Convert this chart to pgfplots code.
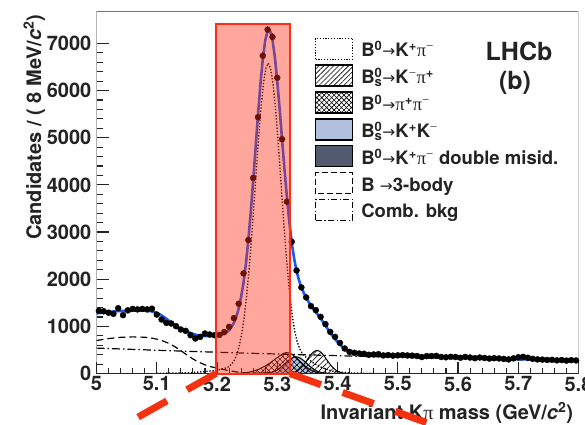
\documentclass[border=0pt]{standalone}
\usepackage{fontspec}
\setmainfont{TeX Gyre Heros}
\newfontfamily\symf{Liberation Serif}
\newfontfamily\arf{DejaVu Sans}
\usepackage{pgfplots}
\usepackage{pgfplotstable}
\pgfplotsset{compat=1.18}
\usetikzlibrary{patterns.meta}

\definecolor{fitblue}{RGB}{25,90,240}
\definecolor{lhred}{RGB}{255,45,20}
\definecolor{dashred}{RGB}{245,50,15}
\definecolor{kkblue}{RGB}{176,192,222}
\definecolor{misid}{RGB}{80,90,108}
\definecolor{txt}{RGB}{35,35,35}

\newcommand{\tf}{\fontsize{20bp}{24bp}\selectfont\bfseries}
\newcommand{\lf}{\fontsize{18.5bp}{22bp}\selectfont\bfseries}
\newcommand{\ar}{{\arf\mdseries\fontsize{15.5bp}{16bp}\selectfont→}}
\newcommand{\pis}{{\symf\mdseries π}}
\newcommand{\mi}{{\symf\mdseries −}}
\newcommand{\bz}{B\textsuperscript{0}}
\newcommand{\bs}{B\rlap{\textsuperscript{0}}\textsubscript{s}}

% data points, 8 MeV bins
\pgfplotstableread{
x n
5.004 1330
5.012 1320
5.020 1290
5.028 1265
5.036 1385
5.044 1238
5.052 1340
5.060 1370
5.068 1360
5.076 1370
5.084 1360
5.092 1375
5.100 1250
5.108 1146
5.116 1075
5.124 1061
5.132 1004
5.140 934
5.148 905
5.156 813
5.164 743
5.172 777
5.180 849
5.188 828
5.196 813
5.204 820
5.212 880
5.220 990
5.228 1175
5.236 1480
5.244 2123
5.252 2830
5.260 4146
5.268 5435
5.276 6737
5.284 7290
5.292 7134
5.300 6270
5.308 4968
5.316 3643
5.324 2794
5.332 2185
5.340 1826
5.348 1614
5.356 1429
5.364 1344
5.372 1202
5.380 1047
5.388 883
5.396 777
5.404 650
5.412 531
5.420 459
5.428 440
5.436 425
5.444 420
5.452 398
5.460 405
5.468 410
5.476 384
5.484 392
5.492 380
5.500 386
5.508 390
5.516 384
5.524 380
5.532 372
5.540 350
5.548 370
5.556 372
5.564 375
5.572 352
5.580 345
5.588 355
5.596 350
5.604 335
5.612 352
5.620 340
5.628 326
5.636 340
5.644 330
5.652 318
5.660 325
5.668 320
5.676 310
5.684 300
5.692 322
5.700 345
5.708 355
5.716 335
5.724 312
5.732 300
5.740 296
5.748 288
5.756 292
5.764 280
5.772 286
5.780 275
5.788 284
5.796 278
}\kpidata

\begin{document}
\begin{tikzpicture}
\begin{axis}[
    scale only axis,
    width=482bp, height=362.3bp,
    xmin=5, xmax=5.8, ymin=0, ymax=7680,
    axis line style={draw=none},
    tick pos=left,
    xtick={5,5.1,5.2,5.3,5.4,5.5,5.6,5.7,5.8},
    xticklabels={5,5.1,5.2,5.3,5.4,5.5,5.6,5.7,5.8},
    ytick={0,1000,2000,3000,4000,5000,6000,7000},
    yticklabels={0,1000,2000,3000,4000,5000,6000,7000},
    minor x tick num=4, minor y tick num=4,
    major tick length=12bp, minor tick length=6bp,
    tick style={black!85, line width=1.1bp},
    tick label style={font=\tf, text=txt},
    xticklabel style={inner sep=3bp},
    yticklabel style={inner sep=5bp},
    ylabel={Candidates / ( 8 MeV/{\itshape c}\textsuperscript{2})},
    ylabel style={font=\tf, text=txt, at={(axis description cs:-0.115,1)}, anchor=base east},
    xlabel={Invariant K\pis{} mass (GeV/{\itshape c}\textsuperscript{2})},
    xlabel style={font=\tf, text=txt, at={(axis description cs:0.996,-0.128)}, anchor=base east},
    legend style={at={(axis description cs:0.4533,0.9274)}, anchor=north west,
        draw=none, fill=none, inner sep=0pt, outer sep=0pt,
        font=\lf, text=txt, row sep=4.5bp, column sep=8bp,
        cells={anchor=base west},
        nodes={inner sep=0pt, text height=15bp, text depth=2bp}},
]
% legend entries
\addlegendimage{legend image code/.code={\draw[line width=1.3bp, dash pattern=on 1.2bp off 1.6bp] (0bp,-2.3bp) rectangle (37bp,18.7bp);}}
\addlegendentry{\bz\ar K\textsuperscript{+}\pis\textsuperscript{\mi}}
\addlegendimage{legend image code/.code={\fill[pattern={Lines[angle=45,distance=3.5bp,line width=0.6bp]}] (0bp,-2.3bp) rectangle (37bp,18.7bp); \draw[line width=1.4bp] (0bp,-2.3bp) rectangle (37bp,18.7bp);}}
\addlegendentry{\bs\ar K\textsuperscript{\mi}\pis\textsuperscript{+}}
\addlegendimage{legend image code/.code={\fill[pattern={Hatch[angle=45,distance=3.5bp,line width=0.6bp]}] (0bp,-2.3bp) rectangle (37bp,18.7bp); \draw[line width=1.4bp] (0bp,-2.3bp) rectangle (37bp,18.7bp);}}
\addlegendentry{\bz\ar\pis\textsuperscript{+}\pis\textsuperscript{\mi}}
\addlegendimage{legend image code/.code={\draw[line width=1.4bp, fill=kkblue] (0bp,-2.3bp) rectangle (37bp,18.7bp);}}
\addlegendentry{\bs\ar K\textsuperscript{+}K\textsuperscript{\mi}}
\addlegendimage{legend image code/.code={\draw[line width=1.4bp, fill=misid] (0bp,-2.3bp) rectangle (37bp,18.7bp);}}
\addlegendentry{\bz\ar K\textsuperscript{+}\pis\textsuperscript{\mi} double misid.}
\addlegendimage{legend image code/.code={\draw[line width=1.2bp, dash pattern=on 6bp off 3bp] (0bp,-2.3bp) rectangle (37bp,18.7bp);}}
\addlegendentry{B \ar3-body}
\addlegendimage{legend image code/.code={\draw[line width=1.2bp, dash pattern=on 6bp off 2.5bp on 1.2bp off 2.5bp] (0bp,-2.3bp) rectangle (37bp,18.7bp);}}
\addlegendentry{Comb. bkg}

% double misid (dark)
\addplot[forget plot, fill=misid, draw=black, line width=0.6bp] coordinates {
(5.22,0) (5.25,8) (5.28,18) (5.30,22) (5.33,20) (5.36,14) (5.39,7) (5.42,2) (5.45,0)} \closedcycle;
% Bs -> K+K- (light blue)
\addplot[forget plot, fill=kkblue, draw=black, line width=1bp] coordinates {
(5.267,0) (5.275,3) (5.283,10) (5.291,30) (5.295,48) (5.299,73) (5.303,106) (5.307,146) (5.311,192)
(5.315,239) (5.319,284) (5.323,322) (5.327,346) (5.331,355) (5.335,346) (5.339,322) (5.343,284)
(5.347,239) (5.351,192) (5.355,146) (5.359,106) (5.363,73) (5.367,48) (5.371,30) (5.379,10)
(5.387,3) (5.395,0)} \closedcycle;
% B0 -> pi+pi- (crosshatch)
\addplot[forget plot, pattern={Hatch[angle=45,distance=4bp,line width=0.6bp]}, draw=black, line width=1bp] coordinates {
(5.230,0) (5.240,8) (5.250,22) (5.260,50) (5.270,95) (5.280,160) (5.288,225) (5.296,300)
(5.304,375) (5.310,425) (5.315,445) (5.320,435) (5.325,405) (5.330,355) (5.335,295) (5.340,230)
(5.345,170) (5.350,118) (5.355,78) (5.360,48) (5.365,28) (5.370,15) (5.380,4) (5.390,0)} \closedcycle;
% Bs -> K-pi+ (hatched)
\addplot[forget plot, pattern={Lines[angle=45,distance=4bp,line width=0.6bp]}, draw=black, line width=1bp] coordinates {
(5.310,0) (5.314,2) (5.318,5) (5.322,11) (5.326,22) (5.330,39) (5.334,66) (5.338,106) (5.342,159)
(5.346,224) (5.350,297) (5.354,370) (5.358,432) (5.362,475) (5.366,490) (5.370,475) (5.374,432)
(5.378,370) (5.382,297) (5.386,224) (5.390,159) (5.394,106) (5.398,66) (5.402,39) (5.406,22)
(5.410,11) (5.414,5) (5.418,2) (5.424,0)} \closedcycle;
% B -> 3-body (dashed)
\addplot[forget plot, black, line width=1.2bp, dash pattern=on 7bp off 4bp] coordinates {
(5.00,700) (5.02,742) (5.04,768) (5.06,778) (5.08,770) (5.09,755) (5.10,730) (5.11,692) (5.12,640)
(5.13,570) (5.14,485) (5.15,395) (5.16,310) (5.17,240) (5.18,185) (5.19,145) (5.20,115) (5.21,88)
(5.22,62) (5.23,40) (5.24,22) (5.25,10) (5.26,4) (5.27,1) (5.28,0)};
% combinatorial (dash-dot)
\addplot[forget plot, black, line width=1.2bp, dash pattern=on 8bp off 3bp on 1.5bp off 3bp] coordinates {
(5.00,540) (5.05,517) (5.10,494) (5.15,473) (5.20,452) (5.25,433) (5.30,414) (5.35,396) (5.40,379)
(5.45,362) (5.50,347) (5.55,332) (5.60,317) (5.65,304) (5.70,290) (5.75,278) (5.80,266)};
% B0 -> K+pi- signal (dotted)
\addplot[forget plot, black, line width=1.4bp, dash pattern=on 1.3bp off 1.8bp] coordinates {
(5.100,5) (5.150,15) (5.180,40) (5.200,75) (5.210,100) (5.217,125) (5.221,160) (5.225,210)
(5.229,290) (5.233,410) (5.237,590) (5.241,850) (5.245,1180) (5.249,1625) (5.253,2175) (5.257,2818)
(5.261,3529) (5.265,4269) (5.269,4988) (5.273,5631) (5.277,6140) (5.281,6467) (5.285,6580)
(5.289,6467) (5.293,6140) (5.297,5631) (5.301,4988) (5.305,4269) (5.309,3529) (5.313,2818)
(5.317,2180) (5.321,1640) (5.325,1220) (5.329,900) (5.333,680) (5.337,530) (5.341,440) (5.345,380)
(5.350,320) (5.360,225) (5.370,150) (5.380,95) (5.390,58) (5.400,35) (5.420,12) (5.450,3) (5.500,0)};
% data
\addplot[forget plot, only marks, mark=*, mark size=3bp, black,
    error bars/.cd, y dir=both, y explicit, error mark=none,
    error bar style={line width=1bp, black}]
    table[x=x, y=n, y error expr=sqrt(\thisrow{n})] {\kpidata};
% total fit
\addplot[forget plot, fitblue, line width=2.6bp] coordinates {
(5.000,1275) (5.010,1292) (5.020,1306) (5.030,1318) (5.040,1327) (5.050,1333) (5.060,1337)
(5.070,1338) (5.080,1335) (5.090,1322) (5.095,1308) (5.100,1285) (5.105,1255) (5.110,1215)
(5.115,1170) (5.120,1120) (5.125,1070) (5.130,1022) (5.135,980) (5.140,948) (5.145,922)
(5.150,895) (5.155,865) (5.160,840) (5.165,822) (5.170,808) (5.175,800) (5.180,795) (5.185,793)
(5.190,795) (5.195,799) (5.200,805) (5.204,812) (5.208,825) (5.212,845) (5.216,875) (5.220,920)
(5.224,985) (5.228,1075) (5.232,1200) (5.236,1380) (5.240,1620) (5.244,1930) (5.248,2330)
(5.252,2830) (5.256,3420) (5.260,4080) (5.264,4780) (5.268,5480) (5.272,6130) (5.276,6670)
(5.280,7060) (5.284,7270) (5.288,7270) (5.292,7080) (5.296,6710) (5.300,6200) (5.304,5600)
(5.308,4960) (5.312,4330) (5.316,3740) (5.320,3220) (5.324,2780) (5.328,2440) (5.332,2180)
(5.336,1980) (5.340,1830) (5.344,1710) (5.348,1610) (5.352,1520) (5.356,1440) (5.360,1370)
(5.364,1300) (5.368,1240) (5.372,1170) (5.376,1095) (5.380,1020) (5.384,940) (5.388,865)
(5.392,795) (5.396,730) (5.400,670) (5.404,615) (5.408,565) (5.412,525) (5.416,490) (5.420,465)
(5.424,447) (5.428,435) (5.432,426) (5.436,420) (5.440,415) (5.450,407) (5.460,400) (5.480,388)
(5.500,376) (5.550,358) (5.600,341) (5.650,323) (5.700,305) (5.750,287) (5.800,270)};

% frame: dark left/bottom, grey top/right
\draw[black!85, line width=1.4bp] (rel axis cs:0,1) -- (rel axis cs:0,0) -- (rel axis cs:1,0);
\draw[black!55, line width=1.1bp] (rel axis cs:0,1) -- (rel axis cs:1,1) -- (rel axis cs:1,0);

\node[font=\fontsize{25bp}{30bp}\selectfont\bfseries, text=txt, anchor=base] at (axis description cs:0.8766,0.8648) {LHCb};
\node[font=\fontsize{25bp}{30bp}\selectfont\bfseries, text=txt, anchor=base] at (axis description cs:0.8683,0.7839) {(b)};

\coordinate (cL) at (axis cs:5.198,0);
\coordinate (cR) at (axis cs:5.321,0);
\coordinate (rT) at (axis cs:5.321,7420);
\coordinate (fL) at (axis cs:4.9062,-2087);
\coordinate (fR) at (axis cs:5.6697,-1597);
\coordinate (bbl) at (axis cs:4.8398,-1075.5);
\coordinate (btr) at (axis cs:5.8108,7919);
\end{axis}
% zoom window overlay
\draw[lhred, line width=2bp, fill=lhred, fill opacity=0.42] (cL) rectangle (rT);
\draw[dashred, line width=7bp, dash pattern=on 33bp off 23bp] (cL) -- (fL);
\draw[dashred, line width=7bp, dash pattern=on 33bp off 23bp] (cR) -- (fR);
\pgfresetboundingbox
\path[use as bounding box] (bbl) rectangle (btr);
\end{tikzpicture}
\end{document}
